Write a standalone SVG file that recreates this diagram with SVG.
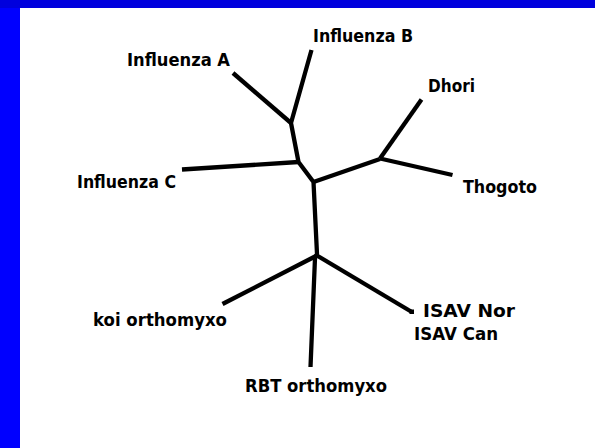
<svg xmlns="http://www.w3.org/2000/svg" width="595" height="448" viewBox="0 0 595 448">
<style>
.lbl{font-family:"DejaVu Sans","Liberation Sans",sans-serif;font-weight:bold;font-size:17.5px;fill:#000}
.br{stroke:#000;stroke-width:4.3;stroke-linecap:butt;stroke-linejoin:round;fill:none}
</style>
<rect x="0" y="0" width="595" height="448" fill="#ffffff"/>
<rect x="0" y="0" width="595" height="8" fill="#0000dd"/>
<rect x="0" y="8" width="20" height="440" fill="#0000ff"/>
<g id="connectors">
<polyline class="br" points="311.5,50 291,123 298.5,162 313.5,182 317,254 315,258 310.5,367"/>
<line class="br" x1="233" y1="73" x2="291" y2="123"/>
<line class="br" x1="182" y1="169.5" x2="298.5" y2="162"/>
<line class="br" x1="313.5" y1="182" x2="380" y2="159"/>
<line class="br" x1="421.5" y1="99.5" x2="380" y2="158.5"/>
<line class="br" x1="380" y1="158.5" x2="452.5" y2="175"/>
<line class="br" x1="222.5" y1="304" x2="316" y2="256"/>
<line class="br" x1="316" y1="255" x2="411" y2="311.5"/>
<rect x="409.5" y="309.5" width="4.5" height="4.5" fill="#000"/>
</g>
<g id="influenza-b"><text class="lbl" x="313" y="42" textLength="100" lengthAdjust="spacingAndGlyphs">Influenza B</text></g>
<g id="influenza-a"><text class="lbl" x="127" y="66" textLength="103" lengthAdjust="spacingAndGlyphs">Influenza A</text></g>
<g id="influenza-c"><text class="lbl" x="77" y="188" textLength="99" lengthAdjust="spacingAndGlyphs">Influenza C</text></g>
<g id="dhori"><text class="lbl" x="428" y="92" textLength="47" lengthAdjust="spacingAndGlyphs">Dhori</text></g>
<g id="thogoto"><text class="lbl" x="463" y="193" textLength="74" lengthAdjust="spacingAndGlyphs">Thogoto</text></g>
<g id="koi"><text class="lbl" x="93" y="326" textLength="134" lengthAdjust="spacingAndGlyphs">koi orthomyxo</text></g>
<g id="isav">
<text class="lbl" x="423" y="317" textLength="92" lengthAdjust="spacingAndGlyphs">ISAV Nor</text>
<text class="lbl" x="414" y="340" textLength="84" lengthAdjust="spacingAndGlyphs">ISAV Can</text>
</g>
<g id="rbt"><text class="lbl" x="245" y="391.5" textLength="142" lengthAdjust="spacingAndGlyphs">RBT orthomyxo</text></g>
</svg>
